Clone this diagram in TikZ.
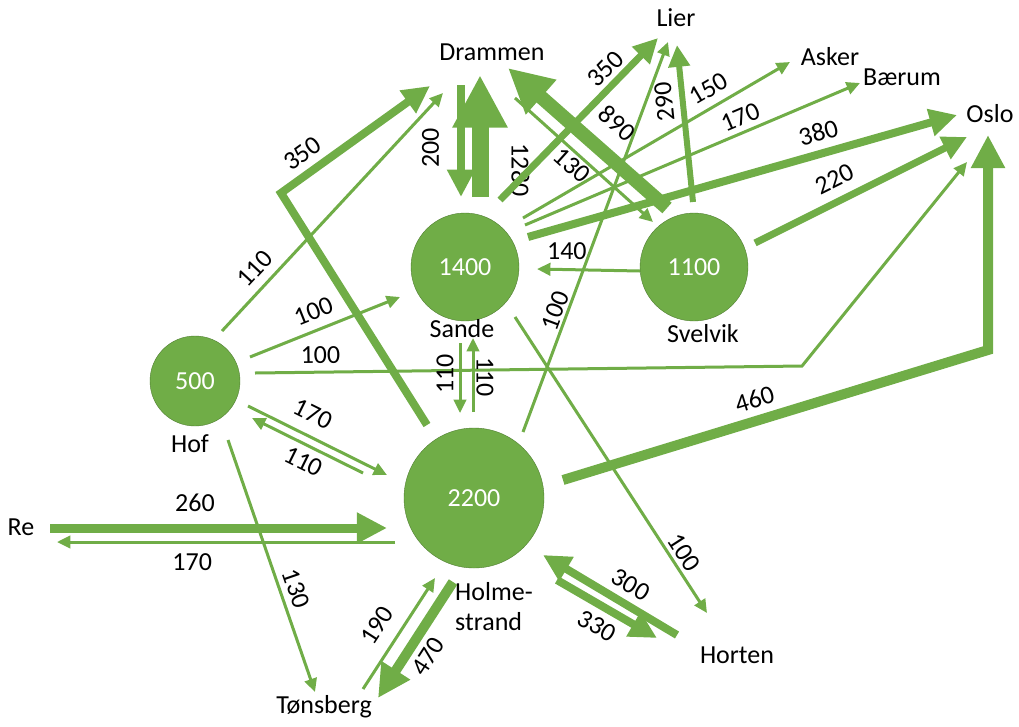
\documentclass[tikz,border=0pt]{standalone}
\usepackage{fontspec}
\setmainfont{Carlito}
\usepackage{tikz}
\usetikzlibrary{arrows.meta,positioning}
\definecolor{flowGreen}{HTML}{70AD47}
\definecolor{townEdge}{HTML}{507E32}

\begin{document}
\begin{tikzpicture}[x=1pt, y=-1pt, font=\fontsize{26}{30}\selectfont,
  town/.style={circle, fill=flowGreen, draw=townEdge, text=white, inner sep=0pt},
  place/.style={anchor=base, inner sep=0pt},
  num/.style={inner sep=2pt},
  flow/.style={draw=flowGreen, line width=#1pt, -{Triangle[length=5pt 2.8, width=4pt 2.8]}}]
\useasboundingbox (0,0) rectangle (1019,726);

\node[town, minimum size=90pt] (hof) at (195,381) {500};
\node[town, minimum size=108pt] (sande) at (465,267) {1400};
\node[town, minimum size=108pt] (svelvik) at (694,267) {1100};
\node[town, minimum size=140pt] (holme) at (474,498) {2200};

\node[place] (hofname) at (190,452) {Hof};
\node[place] (sandename) at (462,337) {Sande};
\node[place] (svelvikname) at (703,342) {Svelvik};
\node[place, anchor=north west, align=left] (holmename) at (455,582) {Holme-\\strand};
\node[place] (drammen) at (492,60) {Drammen};
\node[place] (lier) at (676,26) {Lier};
\node[place] (asker) at (830,65) {Asker};
\node[place] (baerum) at (902,85) {Bærum};
\node[place] (oslo) at (990,122) {Oslo};
\node[place] (re) at (21,535) {Re};
\node[place] (tonsberg) at (324,713) {Tønsberg};
\node[place] (horten) at (737,663) {Horten};

\coordinate (hof-dr) at (222,331);   \coordinate (dr-hof) at (443,93);
\coordinate (hof-sa) at (250,357);   \coordinate (sa-hof) at (400,297);
\coordinate (hof-os) at (255,373);   \coordinate (bend-hof) at (802,366);  \coordinate (os-hof) at (967,162);
\coordinate (hof-ho1) at (248,406);  \coordinate (ho-hof1) at (387,475);
\coordinate (ho-hof2) at (363,473);  \coordinate (hof-ho2) at (252,418);
\coordinate (hof-to) at (228,440);   \coordinate (to-hof) at (315,692);
\coordinate (re-ho1) at (50,528);    \coordinate (ho-re1) at (387,528);
\coordinate (ho-re2) at (395,542);   \coordinate (re-ho2) at (57,542);
\coordinate (ho-to1) at (453,582);   \coordinate (to-ho1) at (378,698);
\coordinate (to-ho2) at (363,689);   \coordinate (ho-to2) at (435,578);
\coordinate (ho-hr1) at (557,580);   \coordinate (hr-ho1) at (657,638);
\coordinate (hr-ho2) at (677,635);   \coordinate (ho-hr2) at (543,555);
\coordinate (sa-hr) at (515,317);    \coordinate (hr-sa) at (707,613);
\coordinate (ho-os) at (563,480);    \coordinate (bend-ho) at (988,350);   \coordinate (os-ho) at (988,135);
\coordinate (ho-li) at (523,432);    \coordinate (li-ho) at (668,42);
\coordinate (ho-dr) at (427,425);    \coordinate (bend-dr) at (281,193);   \coordinate (dr-ho) at (430,86);
\coordinate (sa-ho1) at (460,343);   \coordinate (ho-sa1) at (460,413);
\coordinate (ho-sa2) at (473,412);   \coordinate (sa-ho2) at (473,338);
\coordinate (dr-sa1) at (461,85);    \coordinate (sa-dr1) at (461,197);
\coordinate (sa-dr2) at (480,197);   \coordinate (dr-sa2) at (480,75);
\coordinate (sa-li) at (500,200);    \coordinate (li-sa) at (658,38);
\coordinate (sv-dr1) at (667,208);   \coordinate (dr-sv1) at (508,68);
\coordinate (dr-sv2) at (515,98);    \coordinate (sv-dr2) at (653,222);
\coordinate (sv-li) at (693,202);    \coordinate (li-sv) at (677,45);
\coordinate (sa-as) at (523,218);    \coordinate (as-sa) at (790,62);
\coordinate (sa-ba) at (525,225);    \coordinate (ba-sa) at (860,83);
\coordinate (sa-os) at (528,237);    \coordinate (os-sa) at (957,115);
\coordinate (sv-os) at (755,243);    \coordinate (os-sv) at (967,137);
\coordinate (sv-sa) at (640,271);    \coordinate (sa-sv) at (537,269);

\draw[flow=3] (hof-dr) -- (dr-hof) node[num, pos=.21, sloped, above=6pt] {110};
\draw[flow=3] (hof-sa) -- (sa-hof) node[num, pos=.47, sloped, above=7pt] {100};
\draw[flow=3] (hof-os) -- node[num, pos=.12, sloped, above=5pt] {100} (bend-hof) -- (os-hof);
\draw[flow=3] (hof-ho1) -- (ho-hof1) node[num, pos=.40, sloped, above=10pt] {170};
\draw[flow=3] (ho-hof2) -- (hof-ho2) node[num, pos=.47, sloped, below=4pt] {110};
\draw[flow=3] (hof-to) -- (to-hof) node[num, pos=.61, sloped, above=4pt] {130};
\draw[flow=9] (re-ho1) -- (ho-re1) node[num, pos=.43, above=10pt] {260};
\draw[flow=3] (ho-re2) -- (re-ho2) node[num, pos=.6, below=8pt] {170};
\draw[flow=10] (ho-to1) -- (to-ho1) node[num, pos=.55, sloped, below=4pt] {470};
\draw[flow=3] (to-ho2) -- (ho-to2) node[num, pos=.46, sloped, above=11pt] {190};
\draw[flow=8] (ho-hr1) -- (hr-ho1) node[num, pos=.5, sloped, below=5pt] {330};
\draw[flow=8] (hr-ho2) -- (ho-hr2) node[num, pos=.42, sloped, above=5pt] {300};
\draw[flow=3] (sa-hr) -- (hr-sa) node[num, pos=.82, sloped, above=2pt] {100};
\draw[flow=10] (ho-os) -- node[num, pos=.465, sloped, above=5pt] {460} (bend-ho) -- (os-ho);
\draw[flow=3] (ho-li) -- (li-ho) node[num, pos=.30, sloped, above=0pt] {100};
\draw[flow=8] (ho-dr) -- (bend-dr) -- node[num, pos=.22, sloped, above=5pt] {350} (dr-ho);
\draw[flow=3] (sa-ho1) -- (ho-sa1) node[num, pos=.44, rotate=90, anchor=south, inner ysep=5pt] {110};
\draw[flow=3] (ho-sa2) -- (sa-ho2) node[num, pos=.47, rotate=-90, anchor=south, inner ysep=2pt] {110};
\draw[flow=8] (dr-sa1) -- (sa-dr1) node[num, pos=.56, rotate=90, anchor=south, inner ysep=18pt] {200};
\draw[flow=17] (sa-dr2) -- (dr-sa2) node[num, pos=.22, rotate=-90, anchor=south, inner ysep=23pt] {1280};
\draw[flow=7] (sa-li) -- (li-sa) node[num, pos=.74, sloped, above=2pt] {350};
\draw[flow=14] (sv-dr1) -- (dr-sv1) node[num, pos=.44, sloped, above=13pt] {890};
\draw[flow=3] (dr-sv2) -- (sv-dr2) node[num, pos=.47, sloped, below=0pt] {130};
\draw[flow=6] (sv-li) -- (li-sv) node[num, pos=.65, rotate=96, anchor=south, inner ysep=7pt] {290};
\draw[flow=3] (sa-as) -- (as-sa) node[num, pos=.73, sloped, above=6pt] {150};
\draw[flow=3] (sa-ba) -- (ba-sa) node[num, pos=.66, sloped, above=3pt] {170};
\draw[flow=8] (sa-os) -- (os-sa) node[num, pos=.69, sloped, above=6pt] {380};
\draw[flow=7] (sv-os) -- (os-sv) node[num, pos=.42, sloped, above=8pt] {220};
\draw[flow=3] (sv-sa) -- (sa-sv) node[num, pos=.71, above=6pt] {140};
\end{tikzpicture}
\end{document}
